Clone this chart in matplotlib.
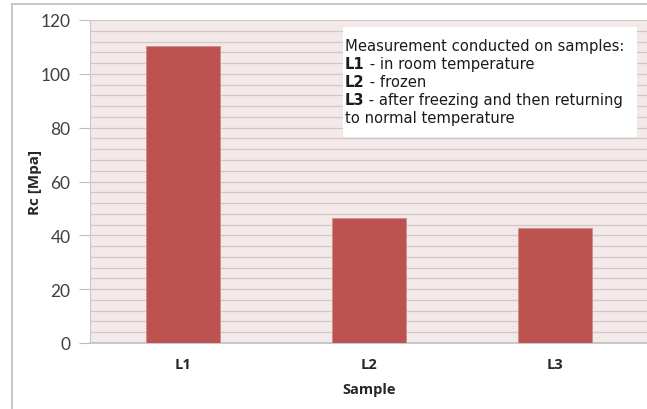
import matplotlib
matplotlib.use("Agg")
import matplotlib.pyplot as plt
from matplotlib.patches import Rectangle
from matplotlib.ticker import MultipleLocator

categories = ["L1", "L2", "L3"]
values = [110.5, 46.3, 42.6]
yticks = [0, 20, 40, 60, 80, 100, 120]

fig = plt.figure(figsize=(6.47, 4.10), dpi=100)
# outer chart frame (left and top visible)
fig.add_artist(plt.Line2D([12/647, 12/647], [0, 1-5/410], color="#BFBFBF", lw=1.2, transform=fig.transFigure))
fig.add_artist(plt.Line2D([12/647, 1], [1-5/410, 1-5/410], color="#BFBFBF", lw=1.2, transform=fig.transFigure))

ax = fig.add_axes([90/647, 1-344/410, 558/647, 323/410])
ax.set_facecolor("#F3E9E9")
x = list(range(len(categories)))
ax.bar(x, values, width=0.40, color="#BD5350", edgecolor="#D48A88", linewidth=0.6, zorder=3)
ax.set_xlim(-0.5, len(categories) - 0.5)
ax.set_ylim(0, 120)
ax.set_yticks(yticks)
ax.yaxis.set_minor_locator(MultipleLocator(4))
ax.grid(axis="y", which="both", color="#D3C8C8", lw=0.9, zorder=0)
ax.set_axisbelow(True)
ax.set_xticks(x)
ax.set_xticklabels(categories, fontweight="bold", fontsize=10.5, family="Open Sans", color="#262626")
for lab in ax.get_yticklabels():
    lab.set_family("Lato")
    lab.set_fontsize(12.5)
    lab.set_color("#404040")
ax.tick_params(axis="y", which="major", length=8, color="#BFBFBF", pad=6)
ax.tick_params(axis="y", which="minor", length=0)
ax.tick_params(axis="x", length=0, pad=10)
for s in ["top", "right"]:
    ax.spines[s].set_visible(False)
ax.spines["left"].set_color("#D0C4C4")
ax.spines["bottom"].set_color("#BFBFBF")
ax.spines["bottom"].set_linewidth(1.2)
ax.set_ylabel("Rc [Mpa]", fontweight="bold", fontsize=11, family="Open Sans", color="#262626")
ax.yaxis.set_label_coords((42 - 90) / 558, 0.5)
ax.set_xlabel("Sample", fontweight="bold", fontsize=10.5, family="Open Sans", color="#262626", labelpad=8)

# annotation box
fig.add_artist(Rectangle((343/647, 1-138/410), 294/647, 110/410, transform=fig.transFigure,
                         facecolor="white", edgecolor="none", zorder=5))
lines = [("", "Measurement conducted on samples:"),
         ("L1", " - in room temperature"),
         ("L2", " - frozen"),
         ("L3", " - after freezing and then returning"),
         ("", "to normal temperature")]
y0 = 46
for i, (b, t) in enumerate(lines):
    yy = 1 - (y0 + i*18.2)/410
    xx = 345/647
    if b:
        tb = fig.text(xx, yy, b, fontweight="bold", fontsize=10.6, family="DejaVu Sans", va="center", color="#1a1a1a", zorder=6)
        fig.canvas.draw()
        bb = tb.get_window_extent()
        xx = bb.x1 / fig.bbox.width
    fig.text(xx, yy, t, fontsize=10.6, family="DejaVu Sans", va="center", color="#1a1a1a", zorder=6)

fig.savefig("out.png", dpi=100)
